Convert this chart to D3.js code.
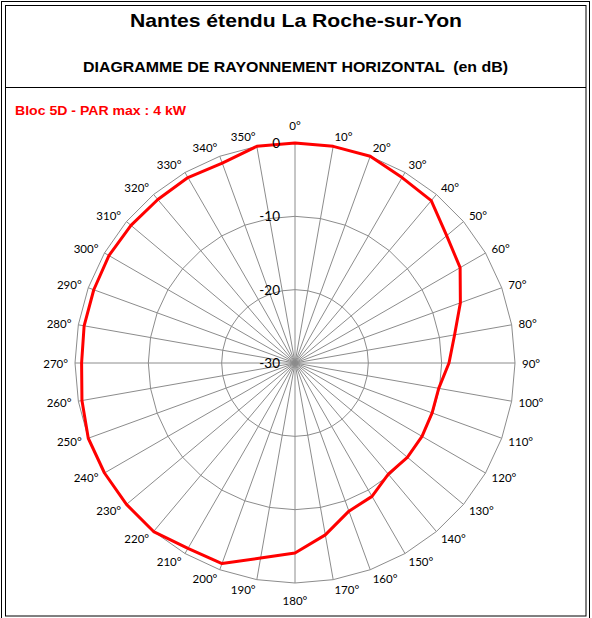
<!DOCTYPE html>
<html>
<head>
<meta charset="utf-8">
<script src="https://cdn.jsdelivr.net/npm/d3@7"></script>
<style>
  html, body { margin: 0; padding: 0; background: #fff; }
  svg { display: block; }
</style>
</head>
<body>
<svg id="chart" width="592" height="618"></svg>
<script>
// ---- data ----
const angles = [0,10,20,30,40,50,60,70,80,90,100,110,120,130,140,150,160,170,
                180,190,200,210,220,230,240,250,260,270,280,290,300,310,320,330,340,350];
const gainDb = [0,0,0,-0.8,-1.1,-3.0,-4.0,-6.0,-7.9,-9.0,-10.1,-10.1,-10.0,-10.0,-10.2,-9.0,-8.5,-6.2,
                -4.1,-3.0,-0.9,-0.8,0,0,0,0,-0.5,-0.9,-0.8,-0.8,-0.7,-0.8,-0.9,-0.8,-1.0,0];
const ringValues = [-30,-20,-10,0];
const ringLabels = ["-30","-20","-10","0"];
const angleLabels = angles.map(a => a + "°");
const title = "Nantes étendu La Roche-sur-Yon";
const subtitle = "DIAGRAMME DE RAYONNEMENT HORIZONTAL  (en dB)";
const seriesName = "Bloc 5D - PAR max : 4 kW";

const svg = d3.select("#chart");
const cx = 295, cy = 363;

// frame
svg.append("rect").attr("x",1.5).attr("y",1.5).attr("width",588).attr("height",630)
  .attr("fill","none").attr("stroke","#000").attr("stroke-width",1);
svg.append("rect").attr("x",5.5).attr("y",5.5).attr("width",580.5).attr("height",610.5)
  .attr("fill","none").attr("stroke","#000").attr("stroke-width",1);
svg.append("line").attr("x1",5).attr("x2",586).attr("y1",87.5).attr("y2",87.5)
  .attr("stroke","#000").attr("stroke-width",1);

// titles
svg.append("text").attr("x",130).attr("y",27).attr("textLength",332).attr("lengthAdjust","spacingAndGlyphs")
  .attr("font-family","Liberation Sans, Arial, sans-serif").attr("font-weight","bold").attr("font-size",19)
  .attr("fill","#000").text(title);
svg.append("text").attr("x",83).attr("y",72).attr("textLength",425).attr("lengthAdjust","spacingAndGlyphs")
  .attr("font-family","Liberation Sans, Arial, sans-serif").attr("font-weight","bold").attr("font-size",14.5)
  .attr("fill","#000").style("white-space","pre").text(subtitle);
svg.append("text").attr("x",15).attr("y",115).attr("textLength",171).attr("lengthAdjust","spacingAndGlyphs")
  .attr("font-family","Liberation Sans, Arial, sans-serif").attr("font-weight","bold").attr("font-size",12.5)
  .attr("fill","#ff0000").text(seriesName);

// scales
const r = d3.scaleLinear().domain([-30, 0]).range([0, 220]);
const ang = d3.scaleLinear().domain([0, 360]).range([0, 2 * Math.PI]);
const pt = (a, v) => [cx + r(v) * Math.sin(ang(a)), cy - r(v) * Math.cos(ang(a))];

const g = svg.append("g");

// grid rings (polygons)
ringValues.forEach(v => {
  const pts = angles.map(a => pt(a, v));
  g.append("path")
    .attr("d", d3.line()(pts) + "Z")
    .attr("fill","none").attr("stroke","#8c8c8c").attr("stroke-width",1);
});

// spokes
angles.forEach(a => {
  const [x2, y2] = pt(a, 0);
  g.append("line").attr("x1",cx).attr("y1",cy).attr("x2",x2).attr("y2",y2)
    .attr("stroke","#8c8c8c").attr("stroke-width",1);
});

// angle labels, placed outside the outer ring like the spreadsheet does
angles.forEach((a, i) => {
  const s = Math.sin(ang(a)), c = Math.cos(ang(a));
  const [px, py] = pt(a, 0);
  const t = g.append("text")
    .attr("text-anchor","middle").attr("dominant-baseline","central")
    .attr("font-family","Lato, 'Open Sans', sans-serif").attr("font-size",11.5)
    .attr("fill","#000").text(angleLabels[i]);
  const w = t.node().getComputedTextLength();
  let dx, dy;
  if (Math.abs(s) < 0.01) { dx = 0; dy = -Math.sign(c) * 17.5; }
  else { dx = 7 * s + Math.sign(s) * w / 2; dy = -c * 9.5; }
  t.attr("x", px + dx).attr("y", py + dy);
});

// data line
const linePts = angles.map((a, i) => pt(a, gainDb[i]));
g.append("path")
  .attr("d", d3.line()(linePts) + "Z")
  .attr("fill","none").attr("stroke","#ff0000").attr("stroke-width",3)
  .attr("stroke-linejoin","round");

// ring value labels
ringValues.forEach((v, i) => {
  g.append("text").attr("x",cx - 15).attr("y",cy - r(v))
    .attr("text-anchor","end").attr("dominant-baseline","central")
    .attr("font-family","Lato, 'Open Sans', sans-serif").attr("font-size",13.5)
    .attr("fill","#000").text(ringLabels[i]);
});
</script>
</body>
</html>
